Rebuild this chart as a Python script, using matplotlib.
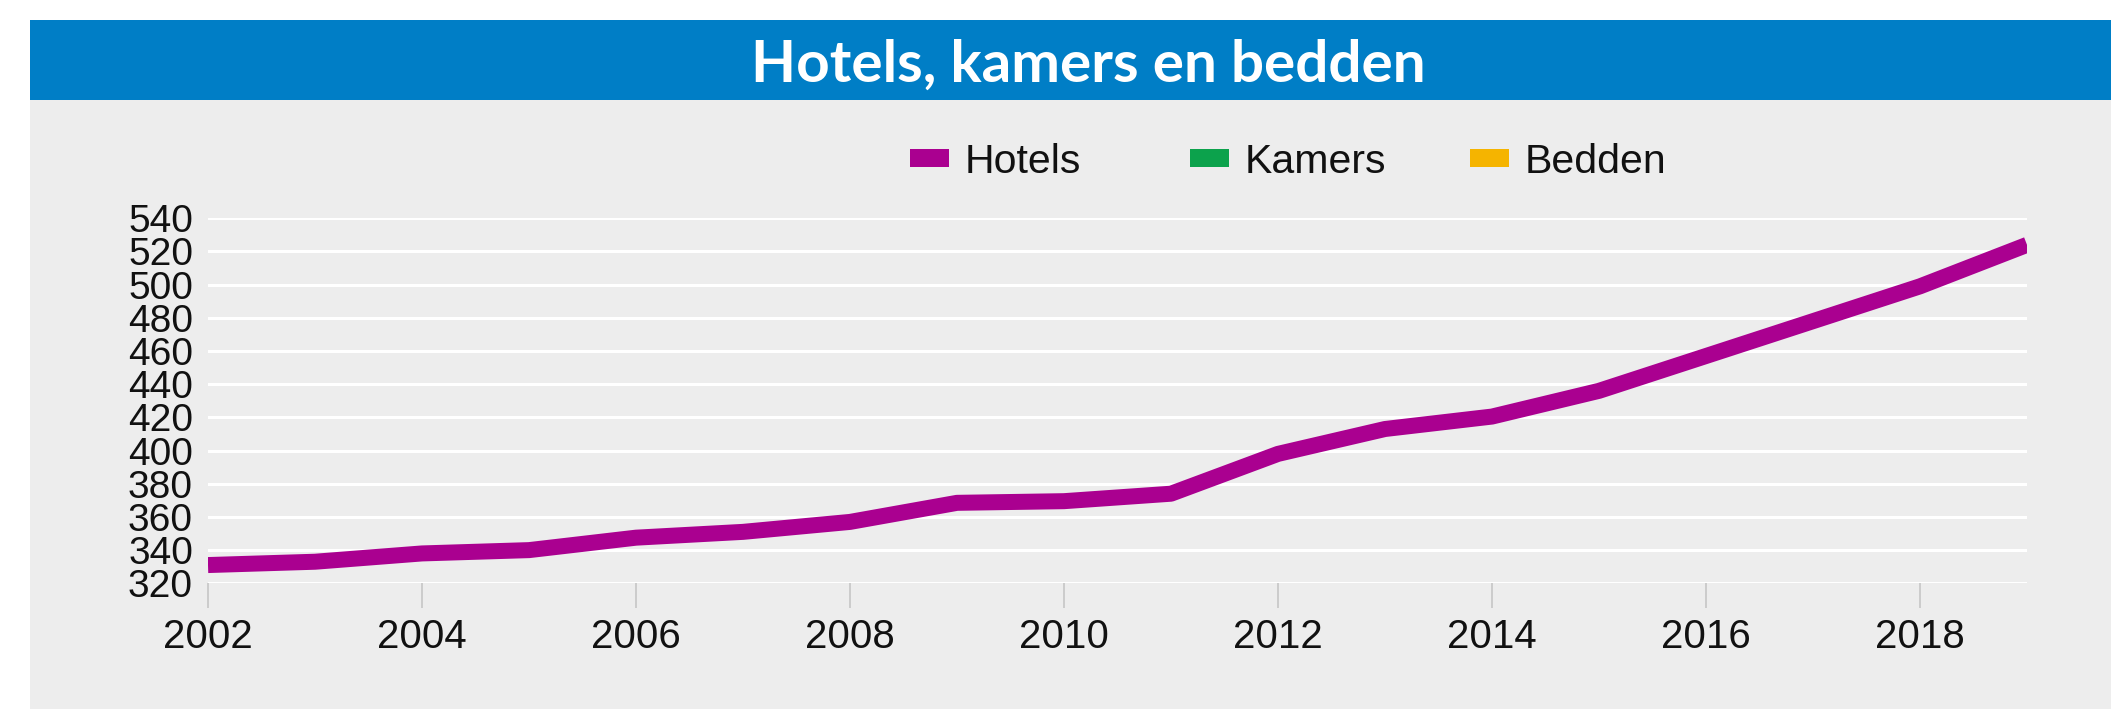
import matplotlib
matplotlib.use("Agg")
import matplotlib.pyplot as plt
from matplotlib.patches import Rectangle

years = [2002, 2003, 2004, 2005, 2006, 2007, 2008, 2009, 2010,
         2011, 2012, 2013, 2014, 2015, 2016, 2017, 2018, 2019]
hotels = [331, 333, 338, 340, 347.5, 351, 357, 368.5, 369.5,
          374, 398, 413, 420.5, 436, 457, 478, 499, 524]
series_names = ["Hotels", "Kamers", "Bedden"]
series_colors = ["#aa0090", "#0ca24c", "#f5b400"]
title = "Hotels, kamers en bedden"
y_ticks = list(range(320, 541, 20))
x_ticks = list(range(2002, 2019, 2))

W, H = 2111, 709
PT = 72 / 100  # points per pixel at dpi 100
fig = plt.figure(figsize=(W / 100, H / 100), dpi=100)
fig.patch.set_facecolor("white")

def px(x0, y0, w, h, **kw):
    r = Rectangle((x0 / W, 1 - (y0 + h) / H), w / W, h / H,
                  transform=fig.transFigure, **kw)
    fig.add_artist(r)
    return r

# gray panel and blue title bar
px(30, 100, W - 30, H - 100, facecolor="#ededed", edgecolor="none", zorder=0)
px(30, 20, W - 30, 80, facecolor="#007ec6", edgecolor="none", zorder=0)
fig.text(1088 / W, 1 - 82 / H, title, ha="center", va="baseline",
         color="white", fontsize=42, fontweight="bold", family="Lato")

ax = fig.add_axes([208 / W, 1 - 583.3 / H, (2027 - 208) / W, (583.3 - 218.3) / H])
ax.patch.set_alpha(0)
ax.plot(years, hotels, color=series_colors[0], lw=16 * PT, solid_joinstyle="round",
        solid_capstyle="butt", zorder=3)
ax.set_xlim(2002, 2019)
ax.set_ylim(320, 540)
ax.set_yticks(y_ticks)
ax.set_xticks(x_ticks)
ax.set_xticklabels([str(t) for t in x_ticks])
ax.grid(axis="y", color="white", lw=3 * PT, zorder=1)
ax.set_axisbelow(True)
for s in ax.spines.values():
    s.set_visible(False)
ax.tick_params(axis="y", length=0, pad=15 * PT, labelsize=28, labelcolor="#111111")
ax.tick_params(axis="x", length=25 * PT, width=2 * PT, color="#cccccc", pad=10 * PT,
               labelsize=29, labelcolor="#111111")
for lab in ax.get_xticklabels() + ax.get_yticklabels():
    lab.set_family("Liberation Sans")

# legend (manual, equally spaced columns)
patch_x = [910, 1190, 1470]
for name, col, x0 in zip(series_names, series_colors, patch_x):
    px(x0, 149, 39, 18, facecolor=col, edgecolor="none", zorder=2)
    fig.text((x0 + 55) / W, 1 - 158 / H, name, ha="left", va="center_baseline",
             fontsize=29.5, family="Liberation Sans", color="#111111")

fig.savefig("out.png", dpi=100)
